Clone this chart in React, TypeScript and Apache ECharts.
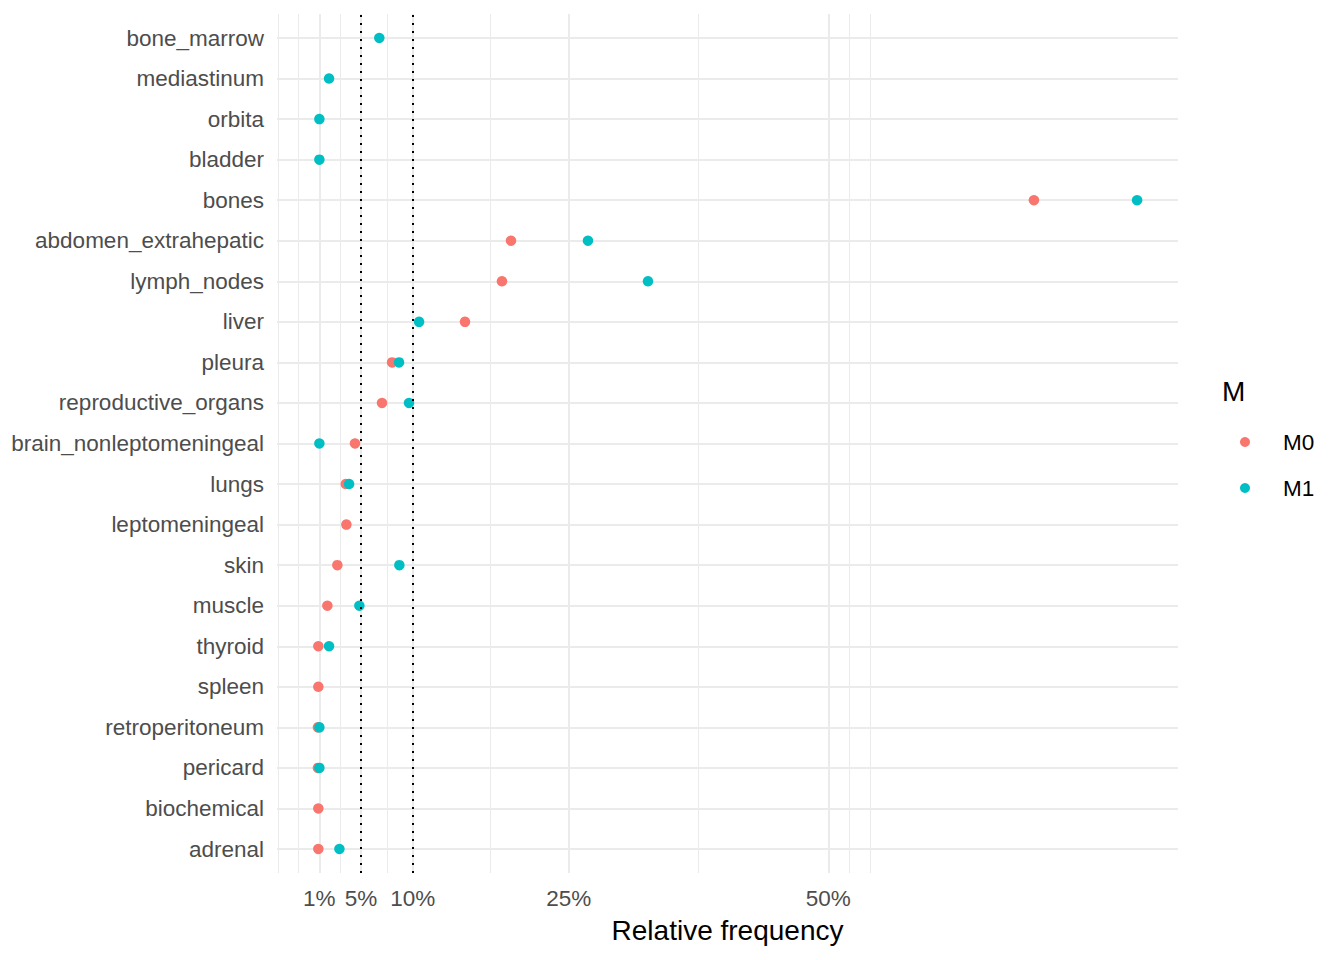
import React, { useEffect, useRef } from "react";
import * as echarts from "echarts";

const categories = [
  "bone_marrow",
  "mediastinum",
  "orbita",
  "bladder",
  "bones",
  "abdomen_extrahepatic",
  "lymph_nodes",
  "liver",
  "pleura",
  "reproductive_organs",
  "brain_nonleptomeningeal",
  "lungs",
  "leptomeningeal",
  "skin",
  "muscle",
  "thyroid",
  "spleen",
  "retroperitoneum",
  "pericard",
  "biochemical",
  "adrenal",
];

// relative frequency in percent (null = not present)
const m0Values: (number | null)[] = [
  null, null, null, null, 69.8, 19.45, 18.58, 15.02, 8.0, 7.03, 4.43, 3.54, 3.6,
  2.73, 1.77, 0.9, 0.9, 0.86, 0.86, 0.9, 0.9,
];
const m1Values: (number | null)[] = [
  6.77, 1.93, 1.0, 1.0, 79.73, 26.86, 32.64, 10.6, 8.67, 9.63, 1.0, 3.86, null,
  8.7, 4.85, 1.93, null, 1.0, 1.0, null, 2.93,
];

const seriesNames = ["M0", "M1"];
const seriesColors = ["#F8766D", "#00BFC4"];

const tickValues = [1, 5, 10, 25, 50];
const minorBreaks = [-3, -1, 3, 7.5, 17.5, 37.5, 52, 54];
const referenceLines = [5, 10];

const xMin = -3.08;
const xMax = 83.67;

const FONT = "Liberation Sans, Arial, sans-serif";

function toPoints(values: (number | null)[]) {
  const out: [number, string][] = [];
  values.forEach((v, i) => {
    if (v !== null) out.push([v, categories[i]]);
  });
  return out;
}

export default function App() {
  const ref = useRef<HTMLDivElement>(null);

  useEffect(() => {
    if (!ref.current) return;
    const chart = echarts.init(ref.current, null, { renderer: "svg" });

    const gridLineData = [
      ...minorBreaks.map((v) => ({
        xAxis: v,
        lineStyle: { color: "#EBEBEB", width: 1, type: "solid" },
      })),
      ...tickValues.map((v) => ({
        xAxis: v,
        lineStyle: { color: "#EBEBEB", width: 2, type: "solid" },
      })),
    ];

    const option: any = {
      animation: false,
      backgroundColor: "#ffffff",
      textStyle: { fontFamily: FONT },
      title: {
        text: "M",
        left: 1222,
        top: 377,
        padding: 0,
        textStyle: {
          fontFamily: FONT,
          fontSize: 28,
          fontWeight: "normal",
          color: "#000000",
        },
      },
      legend: {
        orient: "vertical",
        left: 1240,
        top: 430,
        padding: 0,
        itemWidth: 10,
        itemHeight: 10,
        itemGap: 22,
        icon: "circle",
        data: seriesNames,
        textStyle: {
          fontFamily: FONT,
          fontSize: 22.5,
          color: "#000000",
          lineHeight: 24,
          padding: [0, 0, 0, 28],
        },
      },
      grid: [
        { left: 277, right: 166, top: 14, bottom: 87 },
        { left: 277, right: 166, top: 38, bottom: 111 },
      ],
      xAxis: [
        {
          gridIndex: 0,
          type: "value",
          min: xMin,
          max: xMax,
          axisLine: { show: false },
          axisTick: { show: false },
          splitLine: { show: false },
          axisLabel: {
            customValues: tickValues,
            formatter: (v: number) => `${v}%`,
            fontFamily: FONT,
            fontSize: 22.5,
            color: "#4D4D4D",
            margin: 14,
          },
          name: "Relative frequency",
          nameLocation: "middle",
          nameGap: 43,
          nameTextStyle: {
            fontFamily: FONT,
            fontSize: 28,
            color: "#000000",
          },
        },
        {
          gridIndex: 1,
          type: "value",
          min: xMin,
          max: xMax,
          show: false,
          splitLine: { show: false },
        },
      ],
      yAxis: [
        {
          gridIndex: 0,
          type: "value",
          min: 0,
          max: 1,
          show: false,
          splitLine: { show: false },
        },
        {
          gridIndex: 1,
          type: "category",
          data: categories,
          inverse: true,
          boundaryGap: false,
          axisLine: { show: false },
          axisTick: { show: false },
          axisLabel: {
            fontFamily: FONT,
            fontSize: 22.5,
            color: "#4D4D4D",
            margin: 13,
            interval: 0,
            padding: [4, 0, 0, 0],
          },
          splitLine: {
            show: true,
            interval: 0,
            lineStyle: { color: "#EBEBEB", width: 2 },
          },
        },
      ],
      series: [
        {
          name: "_grid",
          type: "scatter",
          xAxisIndex: 0,
          yAxisIndex: 0,
          symbolSize: 0,
          data: [[xMin, 0]],
          silent: true,
          z: 0,
          markLine: {
            silent: true,
            symbol: "none",
            label: { show: false },
            z: 0,
            data: gridLineData,
          },
        },
        {
          name: seriesNames[0],
          type: "scatter",
          xAxisIndex: 1,
          yAxisIndex: 1,
          symbol: "circle",
          symbolSize: 10.5,
          itemStyle: { color: seriesColors[0], opacity: 1 },
          data: toPoints(m0Values),
          z: 2,
        },
        {
          name: seriesNames[1],
          type: "scatter",
          xAxisIndex: 1,
          yAxisIndex: 1,
          symbol: "circle",
          symbolSize: 10.5,
          itemStyle: { color: seriesColors[1], opacity: 1 },
          data: toPoints(m1Values),
          z: 3,
        },
        {
          name: "_ref",
          type: "scatter",
          xAxisIndex: 0,
          yAxisIndex: 0,
          symbolSize: 0,
          data: [[xMin, 0]],
          silent: true,
          z: 5,
          markLine: {
            silent: true,
            symbol: "none",
            label: { show: false },
            z: 5,
            data: referenceLines.map((v) => ({
              xAxis: v,
              lineStyle: { color: "#000000", width: 2, type: [2, 6] },
            })),
          },
        },
      ],
    };

    chart.setOption(option);
    return () => chart.dispose();
  }, []);

  return (
    <div
      ref={ref}
      style={{
        position: "absolute",
        left: 0,
        top: 0,
        width: "1344px",
        height: "960px",
      }}
    />
  );
}
